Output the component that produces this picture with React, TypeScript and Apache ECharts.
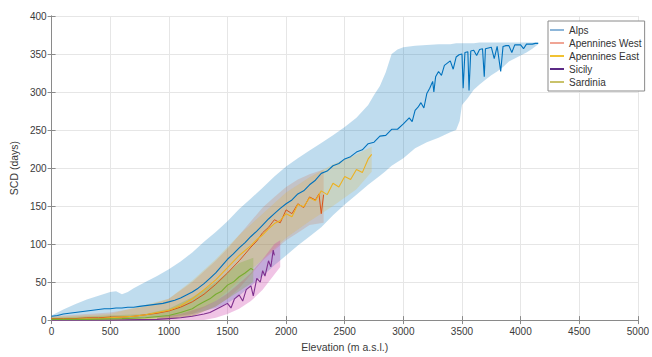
import { useEffect, useRef } from "react";
import * as echarts from "echarts";

// [elevation, mean SCD]
const ALPS_MEAN: number[][] = [
  [0, 5], [50, 6], [100, 8], [150, 9], [200, 10], [250, 11], [300, 12], [350, 13], [400, 14], [450, 15],
  [500, 15], [550, 16], [600, 16], [650, 17], [700, 17], [750, 18], [800, 19], [850, 20], [900, 21], [950, 22],
  [1000, 24], [1050, 26], [1100, 29], [1150, 33], [1200, 37], [1250, 42], [1300, 48], [1350, 55], [1400, 62], [1450, 71],
  [1500, 80], [1550, 87], [1600, 95], [1650, 102], [1700, 110], [1750, 117], [1800, 125], [1850, 133], [1900, 140], [1950, 147],
  [2000, 153], [2050, 158], [2100, 166], [2150, 170], [2200, 178], [2250, 184], [2300, 193], [2350, 196], [2400, 203], [2450, 206],
  [2500, 212], [2550, 215], [2600, 221], [2650, 224], [2700, 232], [2750, 234], [2800, 242], [2850, 243], [2900, 251], [2950, 251],
  [3000, 258], [3025, 262], [3050, 266], [3075, 261], [3100, 276], [3125, 280], [3150, 286], [3175, 279], [3200, 298], [3225, 305],
  [3250, 314], [3260, 300], [3275, 320], [3300, 327], [3325, 322], [3350, 335], [3375, 338], [3400, 341], [3425, 330], [3450, 346],
  [3475, 349], [3500, 350], [3510, 305], [3525, 352], [3550, 353], [3560, 302], [3575, 354], [3600, 355], [3625, 348], [3650, 356],
  [3675, 357], [3690, 320], [3700, 357], [3725, 358], [3750, 359], [3775, 344], [3800, 360], [3830, 327], [3850, 360], [3875, 361],
  [3900, 361], [3925, 352], [3950, 362], [3975, 362], [4000, 362], [4025, 357], [4050, 363], [4075, 363], [4100, 363], [4125, 364], [4150, 364],
];

// [elevation, lower, upper]
const ALPS_BAND: number[][] = [
  [0, 0, 6], [100, 0, 14], [200, 0, 21], [300, 1, 27], [400, 1, 32], [500, 2, 37], [550, 2, 38], [600, 2, 34], [650, 2, 37], [700, 2, 42],
  [800, 3, 50], [900, 3, 58], [1000, 4, 67], [1100, 6, 77], [1200, 8, 89], [1300, 12, 103], [1400, 16, 116], [1500, 22, 130], [1600, 32, 146], [1700, 45, 160],
  [1800, 58, 174], [1900, 72, 189], [2000, 85, 202], [2100, 98, 213], [2200, 110, 223], [2300, 122, 233], [2400, 138, 243], [2500, 152, 254], [2600, 165, 266], [2700, 178, 283],
  [2750, 184, 296], [2800, 190, 308], [2850, 196, 326], [2900, 203, 350], [2950, 208, 356], [3000, 213, 359], [3100, 226, 361], [3200, 234, 362], [3300, 240, 363], [3400, 247, 363],
  [3450, 250, 364], [3480, 262, 364], [3500, 283, 364], [3550, 292, 364], [3600, 303, 364], [3650, 310, 365], [3700, 316, 365], [3750, 322, 365], [3800, 327, 365], [3850, 333, 365],
  [3900, 340, 365], [3950, 344, 365], [4000, 348, 365], [4050, 352, 365], [4100, 357, 365], [4150, 363, 365],
];

const WEST_MEAN: number[][] = [
  [0, 2], [100, 2], [200, 2], [300, 3], [400, 3], [500, 4], [600, 4], [700, 5], [800, 7], [900, 9],
  [1000, 12], [1100, 17], [1200, 24], [1300, 34], [1400, 47], [1500, 62], [1600, 78], [1700, 96], [1750, 104], [1800, 115],
  [1850, 122], [1900, 132], [1950, 128], [2000, 145], [2050, 140], [2100, 153], [2150, 148], [2200, 162], [2250, 158], [2280, 166], [2300, 140], [2320, 165],
];
const WEST_BAND: number[][] = [
  [0, 0, 5], [500, 0, 10], [800, 0, 18], [1000, 1, 28], [1200, 5, 50], [1400, 18, 78], [1500, 28, 94], [1600, 42, 112],
  [1700, 60, 130], [1800, 78, 148], [1900, 92, 162], [2000, 105, 175], [2100, 115, 185], [2200, 125, 192], [2320, 128, 198],
];

const EAST_MEAN: number[][] = [
  [0, 1], [200, 1], [400, 2], [500, 3], [600, 4], [700, 5], [800, 7], [900, 10], [1000, 13], [1100, 19],
  [1200, 28], [1300, 40], [1400, 53], [1500, 69], [1600, 85], [1700, 98], [1750, 106], [1800, 112], [1850, 120], [1900, 127],
  [1950, 131], [2000, 140], [2050, 136], [2100, 152], [2150, 149], [2200, 161], [2250, 157], [2300, 170], [2350, 165], [2400, 180],
  [2450, 175], [2500, 189], [2550, 185], [2600, 198], [2650, 194], [2700, 212], [2730, 218],
];
const EAST_BAND: number[][] = [
  [0, 0, 4], [500, 0, 8], [1000, 2, 28], [1200, 8, 52], [1400, 25, 80], [1500, 38, 96], [1600, 52, 112],
  [1800, 80, 140], [2000, 108, 168], [2200, 130, 188], [2400, 150, 205], [2600, 172, 218], [2730, 195, 228],
];

const SICILY_MEAN: number[][] = [
  [0, 0], [500, 0], [900, 1], [1000, 2], [1100, 3], [1200, 5], [1300, 8], [1350, 10], [1400, 14], [1450, 18],
  [1500, 22], [1530, 16], [1560, 28], [1600, 33], [1630, 25], [1660, 40], [1700, 45], [1720, 32], [1750, 55], [1780, 50],
  [1800, 65], [1820, 58], [1850, 78], [1870, 70], [1890, 92], [1900, 85],
];
const SICILY_BAND: number[][] = [
  [900, 0, 3], [1100, 0, 8], [1300, 0, 18], [1400, 3, 25], [1500, 8, 35], [1600, 15, 48], [1700, 25, 62],
  [1800, 40, 80], [1900, 60, 100], [1950, 70, 105],
];

const SARDINIA_MEAN: number[][] = [
  [0, 1], [300, 1], [600, 2], [800, 3], [1000, 6], [1100, 10], [1200, 15], [1250, 20], [1300, 24], [1350, 28],
  [1400, 34], [1450, 38], [1500, 46], [1550, 50], [1600, 57], [1650, 62], [1700, 68], [1720, 66],
];
const SARDINIA_BAND: number[][] = [
  [0, 0, 3], [800, 0, 8], [1000, 1, 15], [1200, 5, 30], [1400, 18, 50], [1600, 38, 75], [1720, 50, 82],
];

const NAMES = ["Alps", "Apennines West", "Apennines East", "Sicily", "Sardinia"];
const LINE_COLORS = ["#0072BD", "#D95319", "#EDB120", "#7E2F8E", "#77AC30"];
const LEGEND_COLORS = ["#8db6d9", "#f0a595", "#f1c232", "#5b2a86", "#c9c26a"];
const BAND_COLORS = [
  "rgba(0,114,189,0.25)",
  "rgba(217,83,25,0.18)",
  "rgba(237,177,32,0.2)",
  "rgba(205,60,170,0.3)",
  "rgba(119,172,48,0.28)",
];

const X_MIN = 0, X_MAX = 5000, X_STEP = 500;
const Y_MIN = 0, Y_MAX = 400, Y_STEP = 50;

function bandSeries(name: string, band: number[][], fill: string) {
  return {
    type: "custom",
    name: name + " range",
    silent: true,
    z: 2,
    data: band.map((d) => [d[0], d[1], d[2]]),
    encode: { x: 0, y: [1, 2] },
    renderItem: (params: any, api: any) => {
      if (params.dataIndex !== 0) return null;
      const top = band.map((d) => api.coord([d[0], d[2]]));
      const bot = band.map((d) => api.coord([d[0], d[1]])).reverse();
      return { type: "polygon", shape: { points: top.concat(bot) }, style: { fill } };
    },
  };
}

function lineSeries(name: string, data: number[][], color: string, width: number) {
  return {
    type: "line",
    name,
    data,
    showSymbol: false,
    symbol: "none",
    z: 2,
    itemStyle: { color },
    lineStyle: { color, width },
  };
}

export default function App() {
  const ref = useRef<HTMLDivElement>(null);
  useEffect(() => {
    const chart = echarts.init(ref.current!, null, { renderer: "svg" });
    const font = "Liberation Sans, Arial, sans-serif";
    const axisCommon = {
      axisLine: { show: true, lineStyle: { color: "#8a8a8a", width: 1 } },
      axisTick: { show: true, inside: true, length: 4, lineStyle: { color: "#8a8a8a" } },
    };
    const plain = (v: number) => String(v);
    const option: any = {
      animation: false,
      textStyle: { fontFamily: font },
      grid: { left: 48, right: 8, top: 16, bottom: 30, show: false },
      xAxis: [
        {
          type: "value", min: X_MIN, max: X_MAX, interval: X_STEP, position: "bottom",
          ...axisCommon,
          axisLabel: { color: "#3a3a3a", fontSize: 10, margin: 6, fontFamily: font, formatter: plain },
          splitLine: { show: true, lineStyle: { color: "#e6e6e6", width: 1 } },
          name: "Elevation (m a.s.l.)", nameLocation: "middle", nameGap: 16,
          nameTextStyle: { color: "#3a3a3a", fontSize: 10.5, fontFamily: font },
        },
        {
          type: "value", min: X_MIN, max: X_MAX, interval: X_STEP, position: "top",
          ...axisCommon, axisLabel: { show: false }, splitLine: { show: false },
        },
      ],
      yAxis: [
        {
          type: "value", min: Y_MIN, max: Y_MAX, interval: Y_STEP, position: "left",
          ...axisCommon,
          axisLabel: { color: "#3a3a3a", fontSize: 10, margin: 5, fontFamily: font, formatter: plain },
          splitLine: { show: true, lineStyle: { color: "#e6e6e6", width: 1 } },
          name: "SCD (days)", nameLocation: "middle", nameGap: 23,
          nameTextStyle: { color: "#3a3a3a", fontSize: 10.5, fontFamily: font },
        },
        {
          type: "value", min: Y_MIN, max: Y_MAX, interval: Y_STEP, position: "right",
          ...axisCommon, axisLabel: { show: false }, splitLine: { show: false },
        },
      ],
      legend: {
        orient: "vertical",
        left: 548,
        top: 21,
        padding: [3, 3, 3, 2],
        itemWidth: 14,
        itemHeight: 2,
        itemGap: 1,
        icon: "rect",
        borderColor: "#8a8a8a",
        borderWidth: 1,
        backgroundColor: "#ffffff",
        textStyle: { color: "#333", fontSize: 10, lineHeight: 12, fontFamily: font },
        data: NAMES.map((n, i) => ({ name: n, itemStyle: { color: LEGEND_COLORS[i] } })),
      },
      series: [
        bandSeries(NAMES[0], ALPS_BAND, BAND_COLORS[0]),
        lineSeries(NAMES[0], ALPS_MEAN, LINE_COLORS[0], 1.1),
        bandSeries(NAMES[1], WEST_BAND, BAND_COLORS[1]),
        lineSeries(NAMES[1], WEST_MEAN, LINE_COLORS[1], 1),
        bandSeries(NAMES[2], EAST_BAND, BAND_COLORS[2]),
        lineSeries(NAMES[2], EAST_MEAN, LINE_COLORS[2], 1.1),
        bandSeries(NAMES[3], SICILY_BAND, BAND_COLORS[3]),
        lineSeries(NAMES[3], SICILY_MEAN, LINE_COLORS[3], 1.1),
        bandSeries(NAMES[4], SARDINIA_BAND, BAND_COLORS[4]),
        lineSeries(NAMES[4], SARDINIA_MEAN, LINE_COLORS[4], 1.1),
      ],
    };
    chart.setOption(option);
    return () => chart.dispose();
  }, []);
  return (
    <div
      ref={ref}
      style={{ position: "fixed", left: 0, top: 0, width: 652, height: 357, background: "#fff" }}
    />
  );
}
